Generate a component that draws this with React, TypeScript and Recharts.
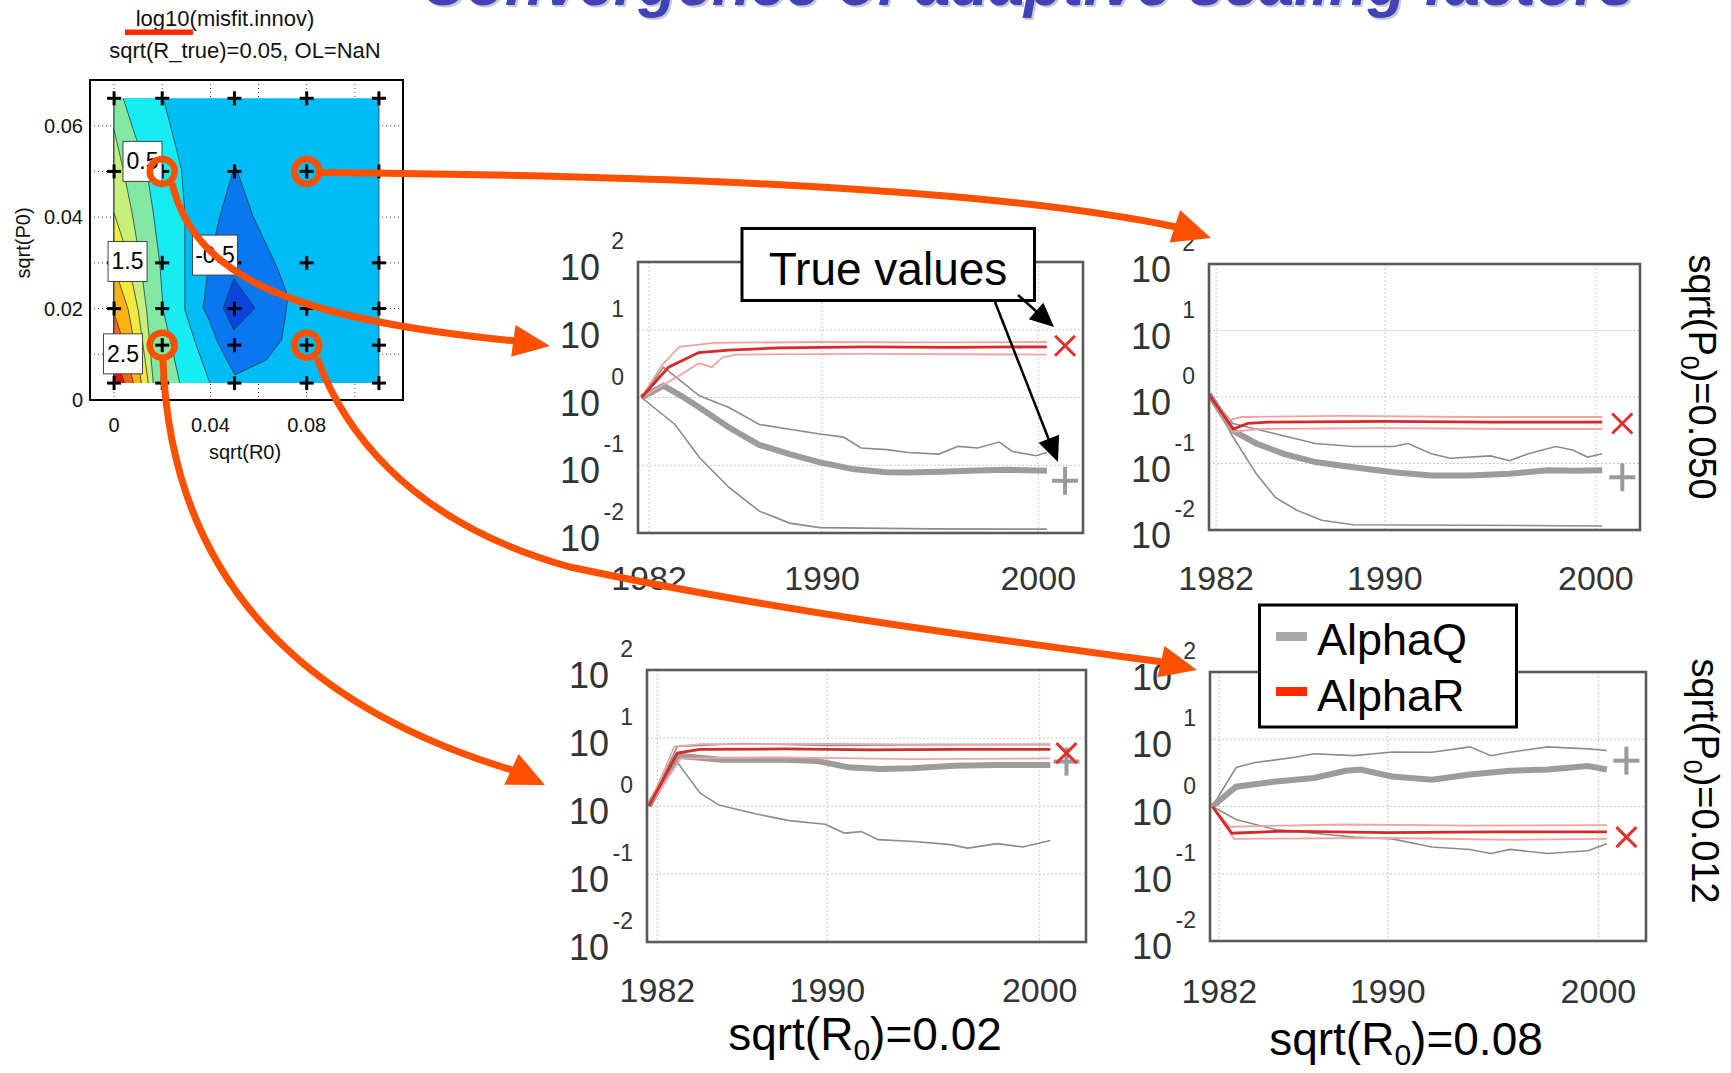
import React from "react";
import { ComposedChart, Line, Area, Scatter, XAxis, YAxis, CartesianGrid } from "recharts";

const FONT = "'Liberation Sans', Arial, Helvetica, sans-serif";

// ---- contour map: log10(misfit.innov) over sqrt(R0) x sqrt(P0)
const R0_GRID = [0, 0.02, 0.05, 0.08, 0.11];
const P0_GRID = [0.0037, 0.012, 0.02, 0.03, 0.05, 0.066];
const R0_TICKS = [0, 0.02, 0.04, 0.06, 0.08, 0.1];
const R0_LABELED = [0, 0.04, 0.08];
const P0_TICKS = [0, 0.01, 0.02, 0.03, 0.04, 0.05, 0.06, 0.07];
const P0_LABELED = [0, 0.02, 0.04, 0.06];
const PICKED = [
  { x: 0.02, y: 0.05 },
  { x: 0.08, y: 0.05 },
  { x: 0.02, y: 0.012 },
  { x: 0.08, y: 0.012 },
];
const CLABELS = [
  { x: 0.0118, y: 0.0522, text: "0.5" },
  { x: 0.0056, y: 0.0303, text: "1.5" },
  { x: 0.0419, y: 0.0317, text: "-0.5" },
  { x: 0.0037, y: 0.0101, text: "2.5" },
];
// band edges: [sqrtP0, sqrtR0 of the right edge]
const EDGE_BASE = [[0.0037, 0.11], [0.066, 0.11]];
const EDGE_CYAN = [[0.0037, 0.0398], [0.0117, 0.0343], [0.0197, 0.0294], [0.0299, 0.0294], [0.0409, 0.0294], [0.0504, 0.028], [0.0591, 0.0239], [0.066, 0.0204]];
const EDGE_GREEN = [[0.0037, 0.0273], [0.0117, 0.0239], [0.0197, 0.0204], [0.0299, 0.019], [0.0409, 0.0163], [0.0504, 0.0135], [0.0591, 0.008], [0.066, 0.0038]];
const EDGE_YGREEN = [[0.0037, 0.0163], [0.0117, 0.0149], [0.0197, 0.0135], [0.0299, 0.011], [0.0409, 0.0075], [0.0504, 0.0038], [0.0591, 0]];
const EDGE_YELLOW = [[0.0037, 0.0142], [0.0117, 0.0121], [0.0197, 0.01], [0.0336, 0.0045], [0.0409, 0]];
const EDGE_ORANGE = [[0.0037, 0.0114], [0.0117, 0.0087], [0.0197, 0.0059], [0.0292, 0]];
const EDGE_ORED = [[0.0037, 0.008], [0.0117, 0.0045], [0.019, 0]];
const EDGE_RED = [[0.0037, 0.0045], [0.0095, 0]];
// [sqrtP0, left, right]
const DIAMOND_OUT = [[0.0055, 0.0502, 0.0502], [0.0088, 0.0468, 0.0633], [0.0131, 0.0426, 0.0695], [0.0175, 0.0395, 0.0709], [0.0201, 0.037, 0.0716], [0.0226, 0.0376, 0.0723], [0.0292, 0.0391, 0.0675], [0.0401, 0.0439, 0.0578], [0.0515, 0.0502, 0.0502]];
const DIAMOND_IN = [[0.0153, 0.0497, 0.0497], [0.0201, 0.0453, 0.0585], [0.0266, 0.0497, 0.0497]];

// ---- convergence panels [year, alpha]
const YEAR_TICKS = [1982, 1990, 2000];
const DECADES = [0.01, 0.1, 1, 10, 100];

const TL_Q_MEAN = [[1981.65, 1], [1982.67, 1.5], [1983.5, 1.05], [1984.33, 0.71], [1985.7, 0.36], [1987.1, 0.2], [1988.5, 0.146], [1989.9, 0.11], [1991.5, 0.087], [1993, 0.079], [1994, 0.078], [1995.5, 0.08], [1996.8, 0.083], [1998.5, 0.086], [2000.4, 0.083]];
const TL_Q_HIGH = [[1981.65, 1], [1982.67, 2.8], [1984.33, 1.06], [1985.7, 0.71], [1987.1, 0.4], [1988.5, 0.34], [1989.9, 0.29], [1991, 0.26], [1991.8, 0.18], [1993, 0.17], [1994, 0.154], [1995.4, 0.146], [1996.3, 0.19], [1997.2, 0.18], [1998.2, 0.22], [1998.8, 0.16], [1999.9, 0.138], [2000.4, 0.154]];
const TL_Q_LOW = [[1981.65, 1], [1983.2, 0.4], [1984.33, 0.13], [1985.7, 0.047], [1987.1, 0.021], [1988.5, 0.014], [1989.9, 0.012], [1995, 0.0115], [2000.4, 0.0114]];
const TL_R_MEAN = [[1981.65, 1], [1982.9, 2.8], [1984.3, 4.6], [1985.7, 5.0], [1988, 5.4], [1992, 5.6], [1996, 5.5], [2000.4, 5.6]];
const TL_R_HIGH = [[1981.65, 1], [1982.6, 3.0], [1983.4, 5.6], [1985, 6.4], [1990, 6.6], [1995, 6.5], [2000.4, 6.6]];
const TL_R_LOW = [[1981.65, 1], [1983.5, 2.2], [1984.3, 3.2], [1984.9, 2.8], [1985.4, 3.9], [1986, 4.3], [1992, 4.4], [2000.4, 4.3]];
const TL_TRUE = [2001.24, 0.059, 5.8];

const TR_Q_MEAN = [[1981.66, 1.1], [1982.8, 0.31], [1983.9, 0.2], [1985.2, 0.14], [1986.7, 0.105], [1988.5, 0.088], [1990.4, 0.074], [1992.2, 0.066], [1994, 0.066], [1995.9, 0.07], [1997.7, 0.079], [1999, 0.078], [2000.3, 0.079]];
const TR_Q_HIGH = [[1981.66, 1.1], [1982.8, 0.4], [1984.8, 0.28], [1986.7, 0.2], [1988.5, 0.18], [1990.4, 0.18], [1991.1, 0.2], [1992.2, 0.14], [1993.1, 0.12], [1995, 0.13], [1995.9, 0.11], [1996.8, 0.14], [1998.1, 0.18], [1998.9, 0.16], [1999.6, 0.125], [2000.3, 0.14]];
const TR_Q_LOW = [[1981.66, 1.1], [1982.8, 0.25], [1983.9, 0.07], [1984.8, 0.031], [1985.8, 0.02], [1987, 0.014], [1988.5, 0.012], [1994, 0.0118], [2000.3, 0.0115]];
const TR_R_MEAN = [[1981.66, 1.1], [1982.8, 0.33], [1983.5, 0.4], [1984.5, 0.42], [1990, 0.43], [1995, 0.42], [2000.3, 0.42]];
const TR_R_HIGH = [[1981.66, 1.1], [1982.6, 0.45], [1983.2, 0.5], [1988, 0.52], [1994, 0.5], [2000.3, 0.5]];
const TR_R_LOW = [[1981.66, 1.1], [1982.8, 0.3], [1984, 0.33], [1990, 0.34], [1996, 0.33], [2000.3, 0.33]];
const TR_TRUE = [2001.25, 0.062, 0.4];

const BL_Q_MEAN = [[1981.6, 1], [1982.94, 5.5], [1985, 4.8], [1988, 4.8], [1989.5, 4.6], [1991, 3.7], [1992.5, 3.5], [1994, 3.6], [1996, 3.9], [1998, 4.0], [2000.5, 4.0]];
const BL_Q_HIGH = [[1981.6, 1], [1982.94, 7.5], [1986, 8.3], [1990, 7.8], [1995, 8.0], [2000.5, 8.0]];
const BL_Q_LOW = [[1981.6, 1], [1982.94, 4.4], [1984, 1.56], [1984.9, 1.03], [1986.6, 0.77], [1988.2, 0.61], [1989.9, 0.54], [1990.8, 0.4], [1991.6, 0.42], [1992.4, 0.32], [1994.1, 0.3], [1995.8, 0.27], [1996.6, 0.24], [1998, 0.28], [1999.2, 0.25], [2000.5, 0.31]];
const BL_R_MEAN = [[1981.6, 1], [1982.94, 6.0], [1984, 6.8], [1988, 6.9], [1992, 6.7], [1996, 6.8], [2000.5, 6.8]];
const BL_R_HIGH = [[1981.6, 1], [1982.8, 7.5], [1984, 8.1], [1990, 8.2], [1995, 8.0], [2000.5, 8.1]];
const BL_R_LOW = [[1981.6, 1], [1983.1, 5.0], [1988, 5.2], [1994, 4.9], [2000.5, 5.0]];
const BL_TRUE = [2001.26, 4.5, 6.0];

const BR_Q_MEAN = [[1981.67, 1], [1982.8, 1.97], [1984.7, 2.35], [1986.5, 2.65], [1988, 3.4], [1988.7, 3.55], [1990.2, 2.8], [1992.1, 2.5], [1993.9, 3.0], [1995.8, 3.4], [1997.6, 3.55], [1999.5, 4.0], [2000.4, 3.55]];
const BR_Q_HIGH = [[1981.67, 1], [1982.8, 3.8], [1983.7, 4.5], [1985.6, 5.4], [1986.5, 6.1], [1988.4, 5.7], [1990.2, 6.45], [1992.1, 6.4], [1993.9, 7.7], [1994.9, 5.7], [1995.8, 6.4], [1997.6, 7.7], [1999.5, 7.2], [2000.4, 6.8]];
const BR_Q_LOW = [[1981.67, 1], [1982.8, 0.64], [1984.7, 0.45], [1986.5, 0.4], [1988.4, 0.35], [1990.2, 0.33], [1992.1, 0.25], [1993.9, 0.23], [1994.9, 0.2], [1995.8, 0.23], [1997.6, 0.2], [1999.5, 0.22], [2000.4, 0.28]];
const BR_R_MEAN = [[1981.67, 1], [1982.6, 0.4], [1985, 0.43], [1990, 0.41], [1995, 0.42], [2000.4, 0.42]];
const BR_R_HIGH = [[1981.67, 1], [1982.5, 0.5], [1988, 0.54], [1994, 0.52], [2000.4, 0.53]];
const BR_R_LOW = [[1981.67, 1], [1982.7, 0.33], [1990, 0.34], [1996, 0.32], [2000.4, 0.33]];
const BR_TRUE = [2001.33, 4.8, 0.35];

const rows = (pts: number[][]) => pts.map(([t, v]) => ({ t, v }));
const band = (pts: number[][]) => pts.map(([y, x]) => ({ y, r: [0, x] }));
const range = (pts: number[][]) => pts.map(([y, a, b]) => ({ y, r: [a, b] }));
const near = (list: number[], v: number) => list.some((l) => Math.abs(l - v) < 1e-9);

const GRID_PTS = P0_GRID.flatMap((y) => R0_GRID.map((x) => ({ x, y })));

const PANELS = [
  { key: "tl", left: 638, top: 262, w: 445, h: 271, domain: [1981.49, 2002.07], labelDy: 57, q: [TL_Q_LOW, TL_Q_HIGH, TL_Q_MEAN], r: [TL_R_LOW, TL_R_HIGH, TL_R_MEAN], truth: TL_TRUE },
  { key: "tr", left: 1209, top: 264, w: 431, h: 266, domain: [1981.66, 2002.09], labelDy: 60, q: [TR_Q_LOW, TR_Q_HIGH, TR_Q_MEAN], r: [TR_R_LOW, TR_R_HIGH, TR_R_MEAN], truth: TR_TRUE },
  { key: "bl", left: 647, top: 670, w: 439, h: 272, domain: [1981.51, 2002.18], labelDy: 60, q: [BL_Q_LOW, BL_Q_HIGH, BL_Q_MEAN], r: [BL_R_LOW, BL_R_HIGH, BL_R_MEAN], truth: BL_TRUE },
  { key: "br", left: 1210, top: 672, w: 436, h: 269, domain: [1981.56, 2002.26], labelDy: 62, q: [BR_Q_LOW, BR_Q_HIGH, BR_Q_MEAN], r: [BR_R_LOW, BR_R_HIGH, BR_R_MEAN], truth: BR_TRUE },
];

const PowTick = (props: any) => {
  const { x, y, payload } = props;
  const e = Math.round(Math.log10(payload.value));
  return (
    <g fill="#333" fontFamily={FONT}>
      <text x={x - 38} y={y + 18} textAnchor="end" fontSize={36}>10</text>
      <text x={x - 14} y={y - 13} textAnchor="end" fontSize={23}>{e}</text>
    </g>
  );
};

const YearTick = (props: any) => (
  <text x={props.x} y={props.y + props.dy} textAnchor="middle" fontSize={34} fill="#333" fontFamily={FONT}>
    {props.payload.value}
  </text>
);

const PlusMark = (props: any) => {
  const { cx, cy } = props;
  return (
    <g stroke="#9a9a9a" strokeWidth={4}>
      <line x1={cx - 13} y1={cy} x2={cx + 13} y2={cy} />
      <line x1={cx} y1={cy - 14} x2={cx} y2={cy + 14} />
    </g>
  );
};

const CrossMark = (props: any) => {
  const { cx, cy } = props;
  return (
    <g stroke="#e03030" strokeWidth={3}>
      <line x1={cx - 10} y1={cy - 10} x2={cx + 10} y2={cy + 10} />
      <line x1={cx - 10} y1={cy + 10} x2={cx + 10} y2={cy - 10} />
    </g>
  );
};

function Panel({ p }: { p: any }) {
  const ML = 100, MT = 50, MR = 70, MB = 80;
  const W = p.w + ML + MR;
  const H = p.h + MT + MB;
  return (
    <div style={{ position: "absolute", left: p.left - ML, top: p.top - MT }}>
      <ComposedChart width={W} height={H} margin={{ top: MT, right: MR, bottom: 0, left: 0 }}>
        <CartesianGrid stroke="#c8c8c8" strokeDasharray="2 2" />
        <XAxis type="number" dataKey="t" domain={p.domain} ticks={YEAR_TICKS} allowDataOverflow height={MB}
          axisLine={false} tickLine={false} tickSize={0} tickMargin={0} interval={0}
          tick={(tp: any) => <YearTick {...tp} dy={p.labelDy} />} />
        <YAxis type="number" dataKey="v" scale="log" domain={[0.01, 100]} ticks={DECADES} allowDataOverflow width={ML}
          axisLine={false} tickLine={false} tickSize={0} tickMargin={0} interval={0} tick={PowTick} />
        <Line data={rows(p.q[0])} dataKey="v" stroke="#8c8c8c" strokeWidth={1.6} dot={false} isAnimationActive={false} />
        <Line data={rows(p.q[1])} dataKey="v" stroke="#8c8c8c" strokeWidth={1.6} dot={false} isAnimationActive={false} />
        <Line data={rows(p.q[2])} dataKey="v" stroke="#9c9c9c" strokeWidth={6} dot={false} isAnimationActive={false} />
        <Line data={rows(p.r[0])} dataKey="v" stroke="#f2a2a2" strokeWidth={1.8} dot={false} isAnimationActive={false} />
        <Line data={rows(p.r[1])} dataKey="v" stroke="#f2a2a2" strokeWidth={1.8} dot={false} isAnimationActive={false} />
        <Line data={rows(p.r[2])} dataKey="v" stroke="#d42a2a" strokeWidth={2.8} dot={false} isAnimationActive={false} />
        <Scatter data={rows([[p.truth[0], p.truth[1]]])} shape={PlusMark} isAnimationActive={false} />
        <Scatter data={rows([[p.truth[0], p.truth[2]]])} shape={CrossMark} isAnimationActive={false} />
      </ComposedChart>
    </div>
  );
}

const ContourXTick = (props: any) =>
  near(R0_LABELED, props.payload.value) ? (
    <text x={props.x} y={props.y + 32} textAnchor="middle" fontSize={20} fill="#111" fontFamily={FONT}>
      {props.payload.value}
    </text>
  ) : <g />;

const ContourYTick = (props: any) =>
  near(P0_LABELED, props.payload.value) ? (
    <text x={props.x - 7} y={props.y + 7} textAnchor="end" fontSize={20} fill="#111" fontFamily={FONT}>
      {props.payload.value}
    </text>
  ) : <g />;

const GridCross = (props: any) => {
  const { cx, cy } = props;
  return (
    <g stroke="#000" strokeWidth={3}>
      <line x1={cx - 7} y1={cy} x2={cx + 7} y2={cy} />
      <line x1={cx} y1={cy - 7} x2={cx} y2={cy + 7} />
    </g>
  );
};

const LabelBox = (props: any) => {
  const { cx, cy, payload } = props;
  const w = 21 + 6 * payload.text.length;
  return (
    <g>
      <rect x={cx - w / 2} y={cy - 20} width={w} height={40} fill="#fff" stroke="#444" strokeWidth={1} />
      <text x={cx} y={cy + 8} textAnchor="middle" fontSize={23} fill="#000" fontFamily={FONT}>{payload.text}</text>
    </g>
  );
};

const Ring = (props: any) => (
  <circle cx={props.cx} cy={props.cy} r={12.5} fill="none" stroke="#ff5000" strokeWidth={6.5} />
);

function ContourChart() {
  const areas: [any[], string][] = [
    [band(EDGE_BASE), "#00bcf6"],
    [band(EDGE_CYAN), "#16ecf2"],
    [band(EDGE_GREEN), "#82e8a2"],
    [band(EDGE_YGREEN), "#c6f07a"],
    [band(EDGE_YELLOW), "#f4ea3a"],
    [band(EDGE_ORANGE), "#fcb012"],
    [band(EDGE_ORED), "#f86410"],
    [band(EDGE_RED), "#e01808"],
    [range(DIAMOND_OUT), "#0a76f0"],
    [range(DIAMOND_IN), "#0a44dc"],
  ];
  return (
    <div style={{ position: "absolute", left: 0, top: 60 }}>
      <ComposedChart layout="vertical" width={420} height={400} margin={{ top: 20, right: 17, bottom: 0, left: 0 }}>
        <CartesianGrid stroke="#444" strokeDasharray="1 3" />
        <XAxis type="number" dataKey="x" domain={[-0.01, 0.12]} ticks={R0_TICKS} allowDataOverflow height={60}
          axisLine={false} tickLine={false} tickSize={0} tickMargin={0} interval={0} tick={ContourXTick} />
        <YAxis type="number" dataKey="y" domain={[0, 0.07]} ticks={P0_TICKS} allowDataOverflow width={90} reversed
          axisLine={false} tickLine={false} tickSize={0} tickMargin={0} interval={0} tick={ContourYTick} />
        {areas.map(([d, c], i) => (
          <Area key={i} data={d} dataKey="r" type="linear" fill={c} fillOpacity={1}
            stroke="#2a3a4a" strokeWidth={0.8} dot={false} activeDot={false} isAnimationActive={false} />
        ))}
        <Scatter data={GRID_PTS} shape={GridCross} isAnimationActive={false} />
        <Scatter data={CLABELS} shape={LabelBox} isAnimationActive={false} />
        <Scatter data={PICKED} shape={Ring} isAnimationActive={false} />
      </ComposedChart>
    </div>
  );
}

const ORANGE = "#ff5000";
function head(tip: number[], ang: number, len: number, half: number) {
  const a = (ang * Math.PI) / 180;
  const dx = Math.cos(a), dy = Math.sin(a);
  const bx = tip[0] - len * dx, by = tip[1] - len * dy;
  return `${tip[0]},${tip[1]} ${bx - half * dy},${by + half * dx} ${bx + half * dy},${by - half * dx}`;
}

function Overlay() {
  const t = { fontFamily: FONT };
  return (
    <svg width={1731} height={1073} style={{ position: "absolute", left: 0, top: 0 }}>
      {/* slide title, cut off at the top */}
      <g fontFamily={FONT} fontWeight="bold" fontStyle="italic" fontSize={64}>
        <text x={423} y={7} textLength={1213} lengthAdjust="spacingAndGlyphs" fill="#c8c8d0">Convergence of adaptive scaling factors</text>
        <text x={421} y={5} textLength={1213} lengthAdjust="spacingAndGlyphs" fill="#4043b5">Convergence of adaptive scaling factors</text>
      </g>

      {/* contour titles */}
      <g {...t} fontSize={22} fill="#111" textAnchor="middle">
        <text x={225} y={26}>log10(misfit.innov)</text>
        <text x={245} y={58}>sqrt(R_true)=0.05, OL=NaN</text>
      </g>
      <rect x={125} y={29.5} width={68} height={5.5} fill="#ff2a00" />
      <g {...t} fontSize={20} fill="#111" textAnchor="middle">
        <text x={245} y={459}>sqrt(R0)</text>
        <text transform="translate(30,243) rotate(-90)">sqrt(P0)</text>
      </g>
      <rect x={90} y={80} width={313} height={320} fill="none" stroke="#000" strokeWidth={2} />

      {/* panel frames */}
      {PANELS.map((p) => (
        <rect key={p.key} x={p.left} y={p.top} width={p.w} height={p.h} fill="none" stroke="#5a5a5a" strokeWidth={2.6} />
      ))}

      {/* row / column labels */}
      <g {...t} fill="#000" textAnchor="middle">
        <text x={865} y={1050} fontSize={46}>sqrt(R<tspan fontSize={30} dy={10}>0</tspan><tspan dy={-10}>)=0.02</tspan></text>
        <text x={1406} y={1055} fontSize={46}>sqrt(R<tspan fontSize={30} dy={10}>0</tspan><tspan dy={-10}>)=0.08</tspan></text>
        <text transform="translate(1689,377) rotate(90)" fontSize={38}>sqrt(P<tspan fontSize={25} dy={8}>0</tspan><tspan dy={-8}>)=0.050</tspan></text>
        <text transform="translate(1692,781) rotate(90)" fontSize={38}>sqrt(P<tspan fontSize={25} dy={8}>0</tspan><tspan dy={-8}>)=0.012</tspan></text>
      </g>

      {/* true values note */}
      <rect x={742} y={228.5} width={292.5} height={72} fill="#fff" stroke="#000" strokeWidth={3} />
      <text x={888} y={285} textAnchor="middle" fontSize={46} fill="#000" {...t}>True values</text>
      <line x1={1018} y1={295} x2={1037} y2={312} stroke="#000" strokeWidth={2.5} />
      <polygon points={head([1054, 327], 41.6, 24, 11)} fill="#000" />
      <line x1={995} y1={302} x2={1049} y2={440} stroke="#000" strokeWidth={2.5} />
      <polygon points={head([1058, 462], 68.5, 25, 11)} fill="#000" />

      {/* legend */}
      <rect x={1259.5} y={605} width={257} height={122} fill="#fff" stroke="#000" strokeWidth={3} />
      <rect x={1276} y={632} width={31} height={9} fill="#a8a8a8" />
      <rect x={1276} y={687} width={31} height={9} fill="#ff2a00" />
      <g {...t} fontSize={45} fill="#000">
        <text x={1317} y={655}>AlphaQ</text>
        <text x={1317} y={711}>AlphaR</text>
      </g>

      {/* orange arrows from the contour map to the panels */}
      <g fill="none" stroke={ORANGE} strokeWidth={7}>
        <path d="M320,172.5 C700,176 1000,190 1176,227" />
        <path d="M172,183 C195,280 300,320 515,341" />
        <path d="M317,358 C340,420 400,520 570,567 C780,612 1000,640 1163,662" />
        <path d="M163,360 C170,560 280,700 512,770" />
      </g>
      <g fill={ORANGE}>
        <polygon points={head([1211, 238], 18, 38, 17)} />
        <polygon points={head([550, 346], 8, 37, 16)} />
        <polygon points={head([1197, 670], 13, 37, 16)} />
        <polygon points={head([545, 785], 25, 37, 17)} />
      </g>
    </svg>
  );
}

export default function App() {
  return (
    <div style={{ position: "absolute", left: 0, top: 0, width: 1731, height: 1073, overflow: "hidden", background: "#fff", fontFamily: FONT }}>
      <ContourChart />
      {PANELS.map((p) => (
        <Panel key={p.key} p={p} />
      ))}
      <Overlay />
    </div>
  );
}
